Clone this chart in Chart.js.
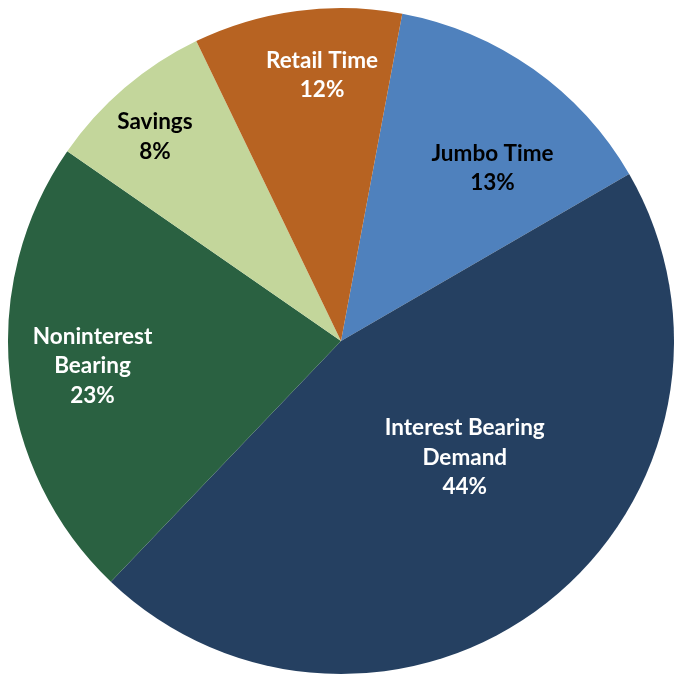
<!DOCTYPE html>
<html>
<head>
<meta charset="utf-8">
<script src="https://cdn.jsdelivr.net/npm/chart.js@4"></script>
<style>
  html, body { margin: 0; padding: 0; background: #fff; }
  canvas { display: block; }
</style>
</head>
<body>
<canvas id="grafico" width="682" height="678"></canvas>
<script>
// slices clockwise, starting just right of 12 o'clock
const categorias = [['Jumbo Time'], ['Interest Bearing', 'Demand'], ['Noninterest', 'Bearing'], ['Savings'], ['Retail Time']];
const valores = [13.7, 45.5, 22.5, 8.2, 10.1];
const porcentajes = ['13%', '44%', '23%', '8%', '12%'];

const colores = ['#4F81BD', '#254061', '#2A6141', '#C3D69B', '#B76322'];
const coloresTexto = ['#000000', '#ffffff', '#ffffff', '#000000', '#ffffff'];
// where each label sits: fraction of radius, and angle shift in degrees
const posEtiqueta = [[0.69, 6], [0.51, -8.6], [0.75, 0], [0.83, -1.8], [0.80, 3.5]];

const etiquetas = {
    id: 'etiquetas',
    afterDatasetsDraw(chart) {
        const ctx = chart.ctx;
        const meta = chart.getDatasetMeta(0);
        ctx.save();
        ctx.font = 'bold 22.5px Lato';
        ctx.textAlign = 'center';
        ctx.textBaseline = 'middle';
        meta.data.forEach((arc, i) => {
            const p = arc.getProps(['x', 'y', 'startAngle', 'endAngle', 'outerRadius'], true);
            const ang = (p.startAngle + p.endAngle) / 2 + posEtiqueta[i][1] * Math.PI / 180;
            const r = p.outerRadius * posEtiqueta[i][0];
            const cx = p.x + Math.cos(ang) * r;
            const cy = p.y + Math.sin(ang) * r;
            const lineas = categorias[i].concat([porcentajes[i]]);
            const alto = 29.5;
            ctx.fillStyle = coloresTexto[i];
            lineas.forEach((t, k) => {
                ctx.fillText(t, cx, cy + (k - (lineas.length - 1) / 2) * alto);
            });
        });
        ctx.restore();
    }
};

new Chart(document.getElementById('grafico'), {
    type: 'pie',
    data: {
        labels: categorias.map(c => c.join(' ')),
        datasets: [{
            data: valores,
            backgroundColor: colores,
            borderWidth: 0
        }]
    },
    options: {
        responsive: false,
        animation: false,
        rotation: 10.6,
        layout: { padding: { top: 8, bottom: 4, left: 0, right: 0 } },
        plugins: {
            legend: { display: false },
            tooltip: { enabled: false }
        }
    },
    plugins: [etiquetas]
});
</script>
</body>
</html>
